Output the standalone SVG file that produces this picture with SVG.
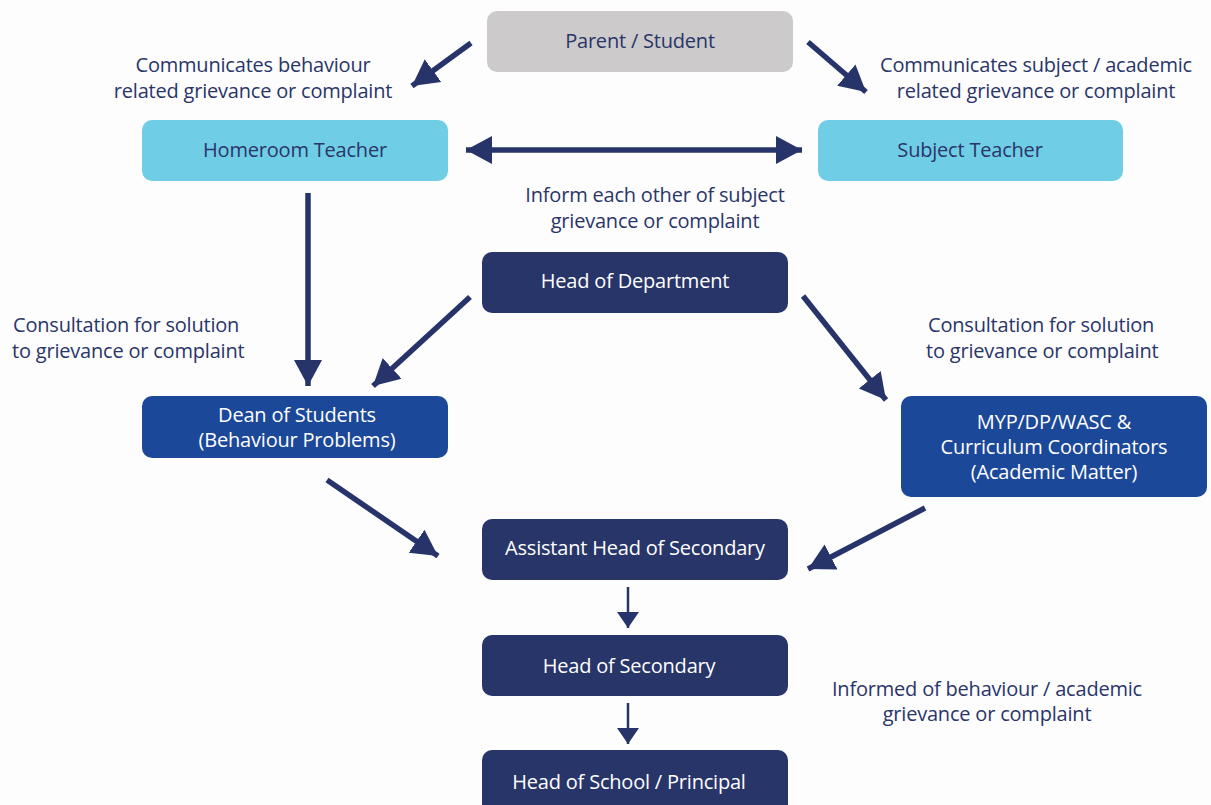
<svg xmlns="http://www.w3.org/2000/svg" width="1211" height="805" viewBox="0 0 1211 805">
<style>
.t{font-family:"Open Sans","Liberation Sans",sans-serif;font-size:20px;text-anchor:middle;letter-spacing:-0.2px}
.lbl{fill:#2a3569}
.w{fill:#ffffff}
.c{stroke:#27346a;fill:none}
.thick{stroke-width:5.5}
.thin{stroke-width:2.5}
</style>
<defs>
<marker id="big" markerUnits="userSpaceOnUse" markerWidth="28" markerHeight="30" refX="26" refY="15" orient="auto" viewBox="0 0 28 30">
<path d="M0,1 L26,15 L0,29 Z" fill="#27346a"/>
</marker>
<marker id="bigs" markerUnits="userSpaceOnUse" markerWidth="28" markerHeight="30" refX="2" refY="15" orient="auto" viewBox="0 0 28 30">
<path d="M28,1 L2,15 L28,29 Z" fill="#27346a"/>
</marker>
<marker id="sm" markerUnits="userSpaceOnUse" markerWidth="24" markerHeight="24" refX="16" refY="12" orient="auto" viewBox="0 0 24 24">
<path d="M0,1 L16,12 L0,23 Z" fill="#27346a"/>
</marker>
</defs>
<rect width="1211" height="805" fill="#fdfdfd"/>

<g id="connectors">
<line class="c thick" x1="471" y1="43" x2="412" y2="86" marker-end="url(#big)"/>
<line class="c thick" x1="808" y1="42" x2="866" y2="92" marker-end="url(#big)"/>
<line class="c thick" x1="466" y1="150" x2="802" y2="150" marker-start="url(#bigs)" marker-end="url(#big)"/>
<line class="c thick" x1="308" y1="193" x2="308" y2="386" marker-end="url(#big)"/>
<line class="c thick" x1="470" y1="297" x2="373" y2="386" marker-end="url(#big)"/>
<line class="c thick" x1="803" y1="296" x2="886" y2="400" marker-end="url(#big)"/>
<line class="c thick" x1="327" y1="480" x2="438" y2="556" marker-end="url(#big)"/>
<line class="c thick" x1="925" y1="508" x2="808" y2="569" marker-end="url(#big)"/>
<line class="c thin" x1="628" y1="587" x2="628" y2="628" marker-end="url(#sm)"/>
<line class="c thin" x1="628" y1="703" x2="628" y2="744" marker-end="url(#sm)"/>
</g>

<g id="labels" class="t lbl">
<text x="253" y="72">Communicates behaviour</text>
<text x="253" y="98">related grievance or complaint</text>
<text x="1036" y="72">Communicates subject / academic</text>
<text x="1036" y="98">related grievance or complaint</text>
<text x="655" y="202">Inform each other of subject</text>
<text x="655" y="228">grievance or complaint</text>
<text x="13" y="332" style="text-anchor:start">Consultation for solution</text>
<text x="12" y="358" style="text-anchor:start">to grievance or complaint</text>
<text x="928" y="332" style="text-anchor:start">Consultation for solution</text>
<text x="926" y="358" style="text-anchor:start">to grievance or complaint</text>
<text x="987" y="696">Informed of behaviour / academic</text>
<text x="987" y="721">grievance or complaint</text>
</g>

<g id="parent">
<rect x="487" y="11" width="306" height="61" rx="10" fill="#cccaca"/>
<text class="t lbl" x="640" y="48">Parent / Student</text>
</g>
<g id="homeroom">
<rect x="142" y="120" width="306" height="61" rx="10" fill="#70cde6"/>
<text class="t lbl" x="295" y="157">Homeroom Teacher</text>
</g>
<g id="subject">
<rect x="818" y="120" width="305" height="61" rx="10" fill="#70cde6"/>
<text class="t lbl" x="970" y="157">Subject Teacher</text>
</g>
<g id="hod">
<rect x="482" y="252" width="306" height="61" rx="10" fill="#283568"/>
<text class="t w" x="635" y="288">Head of Department</text>
</g>
<g id="dean">
<rect x="142" y="396" width="306" height="62" rx="10" fill="#1c4899"/>
<text class="t w" x="297" y="422">Dean of Students</text>
<text class="t w" x="297" y="447">(Behaviour Problems)</text>
</g>
<g id="myp">
<rect x="901" y="396" width="306" height="101" rx="10" fill="#1c4899"/>
<text class="t w" x="1054" y="429">MYP/DP/WASC &amp;</text>
<text class="t w" x="1054" y="454">Curriculum Coordinators</text>
<text class="t w" x="1054" y="479">(Academic Matter)</text>
</g>
<g id="ahs">
<rect x="482" y="519" width="306" height="61" rx="10" fill="#283568"/>
<text class="t w" x="635" y="555">Assistant Head of Secondary</text>
</g>
<g id="hos">
<rect x="482" y="635" width="306" height="61" rx="10" fill="#283568"/>
<text class="t w" x="629" y="673">Head of Secondary</text>
</g>
<g id="hoschool">
<rect x="482" y="750" width="306" height="70" rx="10" fill="#283568"/>
<text class="t w" x="629" y="789">Head of School / Principal</text>
</g>
</svg>
